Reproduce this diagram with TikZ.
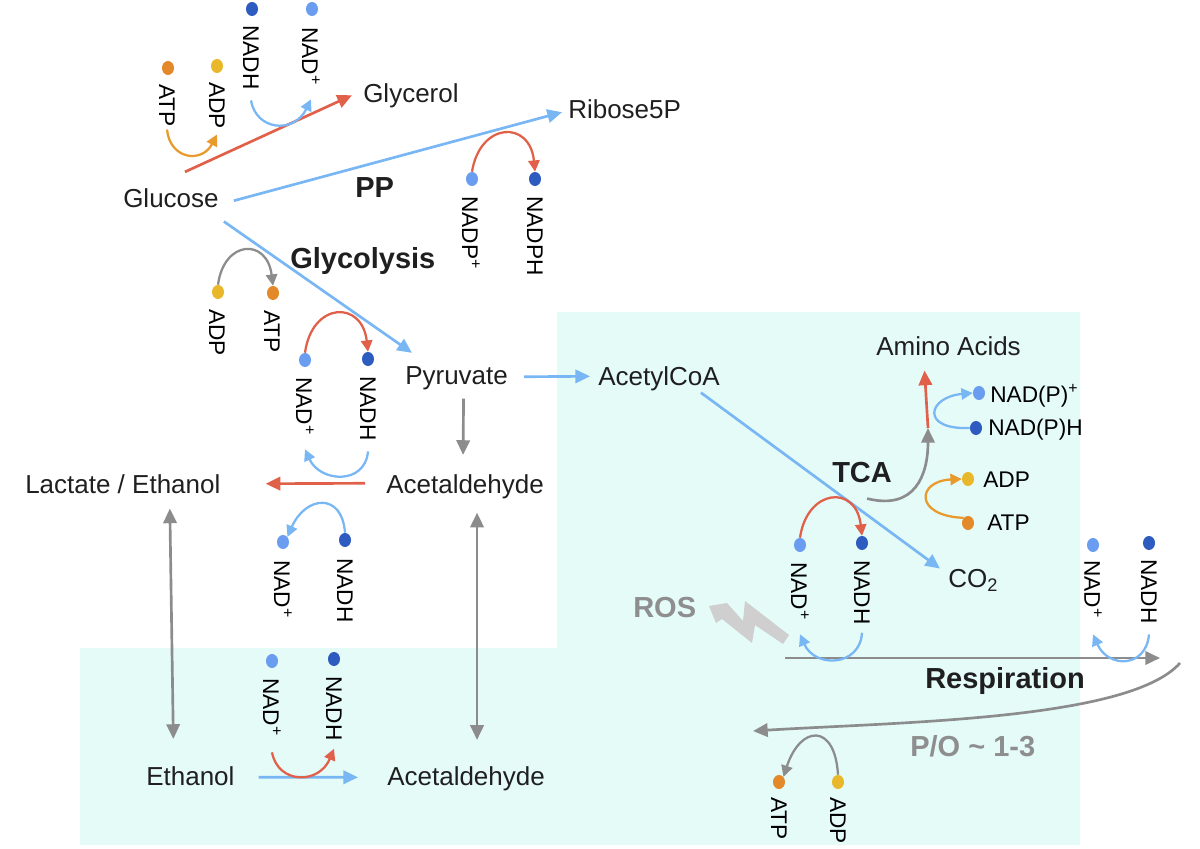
\documentclass[tikz,border=0pt]{standalone}
\usepackage{fontspec}
\setmainfont{Liberation Sans}
\usetikzlibrary{arrows.meta,shapes.geometric,calc}
\definecolor{bgc}{HTML}{E4FBF8}
\definecolor{txt}{HTML}{1F1F1F}
\definecolor{bluea}{HTML}{78B6F4}
\definecolor{reda}{HTML}{E0604A}
\definecolor{graya}{HTML}{8C8C8C}
\definecolor{orangea}{HTML}{E89A2C}
\definecolor{nadl}{HTML}{6A9CF0}
\definecolor{nadd}{HTML}{2E5BBF}
\definecolor{atpc}{HTML}{E3892A}
\definecolor{adpc}{HTML}{E8B82A}
\definecolor{rosc}{HTML}{8E8E8E}
\definecolor{boltc}{HTML}{CFCFCF}
\begin{document}
\begin{tikzpicture}[x=0.75pt,y=-0.75pt,
  lbl/.style={font=\fontsize{19.5}{22}\selectfont, text=txt, inner sep=0pt, anchor=base west},
  blbl/.style={font=\bfseries\fontsize{21.75}{24}\selectfont, text=txt, inner sep=0pt, anchor=base west},
  glbl/.style={blbl, text=rosc},
  rl/.style={font=\fontsize{17}{19}\selectfont, rotate=-90, anchor=west, inner sep=0pt, text=black},
  sl/.style={font=\fontsize{17}{19}\selectfont, anchor=base west, inner sep=0pt, text=black},
  dot/.style={ellipse, minimum width=9pt, minimum height=10.5pt, inner sep=0pt, draw=none},
  dlb/.style={dot, fill=nadl}, ddb/.style={dot, fill=nadd},
  datp/.style={dot, fill=atpc}, dadp/.style={dot, fill=adpc},
  arr/.style={line width=2pt, -{Triangle[length=11pt,width=10pt]}},
  darr/.style={line width=2pt, {Triangle[length=11pt,width=10pt]}-{Triangle[length=11pt,width=10pt]}},
  carr/.style={line width=1.7pt, -{Triangle[length=8.5pt,width=8.5pt]}}
]
\useasboundingbox (0,0) rectangle (1200,849);
% background
\fill[bgc] (80,648) -- (557,648) -- (557,312) -- (1080,312) -- (1080,845) -- (80,845) -- cycle;

% main labels
\node[lbl] (glucose) at (123,207) {Glucose};
\node[lbl] (glycerol) at (363,103) {Glycerol};
\node[lbl] (ribose) at (568,118) {Ribose5P};
\node[blbl] (pp) at (355,197) {PP};
\node[blbl] (glyco) at (290,268) {Glycolysis};
\node[lbl] (pyruvate) at (405,384) {Pyruvate};
\node[lbl] (acetyl) at (598,385) {AcetylCoA};
\node[lbl] (acetal) at (386,493) {Acetaldehyde};
\node[lbl] (lactate) at (25,493) {Lactate / Ethanol};
\node[lbl] (amino) at (876,355) {Amino Acids};
\node[blbl] (tca) at (832,482) {TCA};
\node[lbl] (co2) at (948,587) {CO\textsubscript{2}};
\node[glbl] (ros) at (633,617) {ROS};
\node[blbl] (resp) at (925,688) {Respiration};
\node[glbl] (po) at (910,756) {P/O \textasciitilde{} 1-3};
\node[lbl] (ethanol) at (146,785) {Ethanol};
\node[lbl] (acetal2) at (387,785) {Acetaldehyde};

% cofactor dots and labels
\node[datp] (atp1) at (168,68) {};  \node[rl] (latp1) at (167,84) {ATP};
\node[dadp] (adp1) at (217,66) {};  \node[rl] (ladp1) at (217,82) {ADP};
\node[ddb] (nadh1) at (252,9) {};   \node[rl] (lnadh1) at (251,25) {NADH};
\node[dlb] (nad1) at (312,9) {};    \node[rl] (lnad1) at (311,27) {NAD\textsuperscript{+}};

\node[dlb] (nadpp) at (472,179) {}; \node[rl] (lnadpp) at (471,196) {NADP\textsuperscript{+}};
\node[ddb] (nadph) at (535,179) {}; \node[rl] (lnadph) at (535,196) {NADPH};

\node[dadp] (adp3) at (218,292) {}; \node[rl] (ladp3) at (217,309) {ADP};
\node[datp] (atp3) at (273,293) {}; \node[rl] (latp3) at (272,310) {ATP};

\node[dlb] (nad4) at (305,360) {};  \node[rl] (lnad4) at (305,377) {NAD\textsuperscript{+}};
\node[ddb] (nadh4) at (368,359) {}; \node[rl] (lnadh4) at (368,376) {NADH};

\node[dlb] (nad5) at (283,542) {};  \node[rl] (lnad5) at (283,560) {NAD\textsuperscript{+}};
\node[ddb] (nadh5) at (345,540) {}; \node[rl] (lnadh5) at (345,558) {NADH};

\node[dlb] (nad6) at (272,661) {};  \node[rl] (lnad6) at (272,678) {NAD\textsuperscript{+}};
\node[ddb] (nadh6) at (334,659) {}; \node[rl] (lnadh6) at (334,676) {NADH};

\node[dlb] (nad7) at (800,545) {};  \node[rl] (lnad7) at (800,562) {NAD\textsuperscript{+}};
\node[ddb] (nadh7) at (862,543) {}; \node[rl] (lnadh7) at (862,560) {NADH};

\node[dlb] (nad8) at (1093,545) {};  \node[rl] (lnad8) at (1093,560) {NAD\textsuperscript{+}};
\node[ddb] (nadh8) at (1149,543) {}; \node[rl] (lnadh8) at (1149,559) {NADH};

\node[dlb] (npp) at (979,393) {};  \node[sl] (lnpp) at (990,402) {NAD(P)\textsuperscript{+}};
\node[ddb] (nph) at (976,428) {};  \node[sl] (lnph) at (988,435) {NAD(P)H};
\node[dadp] (adp9) at (968,479) {}; \node[sl] (ladp9) at (983,487) {ADP};
\node[datp] (atp9) at (968,523) {}; \node[sl] (latp9) at (987,530) {ATP};

\node[datp] (atp10) at (779,782) {}; \node[rl] (latp10) at (779,797) {ATP};
\node[dadp] (adp10) at (838,782) {}; \node[rl] (ladp10) at (838,797) {ADP};

% main connectors
\draw[arr,reda] ($(glucose.north)+(14,-16)$) -- ($(glycerol.west)+(-11,-1)$);
\draw[arr,bluea] ($(glucose.east)+(15,3)$) -- ($(ribose.west)+(-6,3.5)$);
\draw[arr,bluea] ($(glucose.south east)+(5,14)$) -- ($(pyruvate.north west)+(7,-13)$);
\draw[arr,bluea] ($(pyruvate.east)+(16,-1)$) -- ($(acetyl.west)+(-8,-2)$);
\draw[arr,bluea] ($(acetyl.south)+(42,2)$) -- ($(co2.north west)+(-8,0)$);
\draw[arr,graya] ($(pyruvate.south)+(7,9)$) -- ($(acetal.north)+(-2,-19)$);
\draw[arr,reda] ($(acetal.west)+(-21,-3)$) -- ($(lactate.east)+(45,0)$);
\draw[darr,graya] ($(lactate.south)+(47,15)$) -- ($(ethanol.north)+(-17,-27)$);
\draw[darr,graya] ($(acetal.south)+(12,14)$) -- ($(acetal2.north)+(11,-26)$);
\draw[arr,bluea] ($(ethanol.east)+(24,1.5)$) -- ($(acetal2.west)+(-29,-1)$);

% respiration
\coordinate (resps) at (785,658);
\coordinate (respe) at (1160,658);
\coordinate (rets) at (1180,663);
\coordinate (rete) at (753,731);
\draw[arr,graya] (resps) -- (respe);
\draw[arr,graya] (rets) .. controls (1130,720) and (900,722) .. (rete);

% ROS bolt
\fill[boltc] (709,606) -- (727,603) -- (743,621) -- (745,601) -- (789,635) -- (783,644)
  -- (755,625) -- (752,643) -- (722,619) -- (716,623) -- cycle;

% TCA to amino acids
\coordinate (branch) at (928,428);
\draw[arr,graya] ($(tca.south)+(5,16)$) .. controls +(48,12) and +(0,47) .. (branch);
\draw[arr,reda] (branch) -- ($(amino.south)+(-24,15)$);

% cofactor curves
\draw[carr,orangea] ([yshift=-2pt]latp1.east) .. controls +(3,30) and +(-15,29) .. ([yshift=-4pt]ladp1.east);
\draw[carr,bluea] ([yshift=-8pt]lnadh1.east) .. controls +(5,30) and +(-17,35) .. ([yshift=-10.5pt]lnad1.east);
\draw[carr,reda] (nadpp.north) .. controls +(8,-50) and +(-5,-52) .. (nadph.north);
\draw[carr,graya] (adp3.north) .. controls +(6,-45) and +(-6,-48) .. (atp3.north);
\draw[carr,reda] (nad4.north) .. controls +(7,-51) and +(-6,-52) .. (nadh4.north);
\draw[carr,bluea] ([yshift=-8pt]lnadh4.east) .. controls +(-3,34) and +(15,33) .. ([yshift=-10.5pt]lnad4.east);
\draw[carr,bluea] (nadh5.north) .. controls +(-3,-41) and +(18,-41) .. (nad5.north east);
\draw[carr,reda] ([yshift=-12pt]lnad6.east) .. controls +(6,32) and +(-15,36) .. ([yshift=-6pt]lnadh6.east);
\draw[carr,reda] (nad7.north) .. controls +(7,-49) and +(-6,-52) .. (nadh7.north);
\draw[carr,bluea] ([yshift=-6pt]lnadh7.east) .. controls +(-2,34) and +(15,34) .. ([yshift=-10.5pt]lnad7.east);
\draw[carr,bluea] ([yshift=-8pt]lnadh8.east) .. controls +(-3,34) and +(15,34) .. ([yshift=-12pt]lnad8.east);
\draw[carr,bluea] (nph.west) .. controls +(-50,2) and +(-45,4) .. (npp.west);
\draw[carr,orangea] (atp9.north west) .. controls +(-50,-2) and +(-45,2) .. (adp9.west);
\draw[carr,graya] (adp10.north) .. controls +(-3,-52) and +(17,-52) .. (atp10.north east);
\end{tikzpicture}
\end{document}
